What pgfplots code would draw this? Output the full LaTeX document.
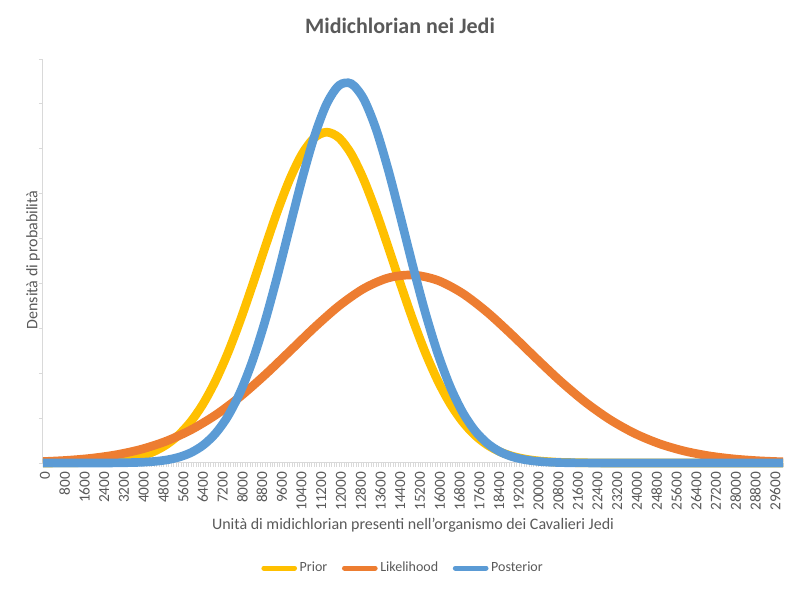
\documentclass[border=0pt]{standalone}
\usepackage{fontspec}
\setmainfont{Carlito}
\usepackage{pgfplots}
\pgfplotsset{compat=1.18}
\usepackage{pgfplotstable}
\definecolor{txt}{HTML}{595959}
\definecolor{axl}{HTML}{D9D9D9}
\definecolor{cprior}{HTML}{FFC000}
\definecolor{clik}{HTML}{ED7D31}
\definecolor{cpost}{HTML}{5B9BD5}

\pgfplotstableread{
x y
0 0.001
500 0.002
1000 0.004
1500 0.008
2000 0.015
2500 0.029
3000 0.052
3500 0.092
4000 0.156
4500 0.256
5000 0.407
5500 0.624
6000 0.926
6500 1.327
7000 1.838
7500 2.459
8000 3.181
8500 3.975
9000 4.801
9500 5.602
10000 6.316
10500 6.881
11000 7.245
11500 7.370
12000 7.245
12500 6.881
13000 6.316
13500 5.602
14000 4.801
14500 3.975
15000 3.181
15500 2.459
16000 1.838
16500 1.327
17000 0.926
17500 0.624
18000 0.407
18500 0.256
19000 0.156
19500 0.092
20000 0.052
20500 0.029
21000 0.015
21500 0.008
22000 0.004
22500 0.002
23000 0.001
24000 0
25000 0
26000 0
27000 0
28000 0
29000 0
30000 0
}\prior

\pgfplotstableread{
x y
0 0.0316
1000 0.0597
2000 0.1079
3000 0.1865
4000 0.3084
5000 0.4880
6000 0.7386
7000 1.0694
8000 1.4813
9000 1.9628
10000 2.4878
11000 3.0168
12000 3.4998
13000 3.8840
14000 4.1235
15000 4.1879
16000 4.0690
17000 3.7820
18000 3.3630
19000 2.8606
20000 2.3280
21000 1.8122
22000 1.3496
23000 0.9615
24000 0.6551
25000 0.4272
26000 0.2666
27000 0.1591
28000 0.0908
29000 0.0496
30000 0.0259
}\likelihood

\pgfplotstableread{
x y
0 0
1000 0
2000 0
2500 0
3000 0.003
3500 0.008
4000 0.016
4500 0.034
5000 0.067
5500 0.128
6000 0.231
6500 0.400
7000 0.662
7500 1.047
8000 1.583
8500 2.286
9000 3.156
9500 4.162
10000 5.246
10500 6.319
11000 7.274
11500 8.001
12000 8.411
12500 8.449
13000 8.111
13500 7.441
14000 6.523
14500 5.465
15000 4.375
15500 3.347
16000 2.448
16500 1.710
17000 1.142
17500 0.728
18000 0.444
18500 0.259
19000 0.144
19500 0.077
20000 0.039
20500 0.019
21000 0.009
21500 0.004
22000 0.002
23000 0
24000 0
25000 0
26000 0
27000 0
28000 0
29000 0
30000 0
}\posterior

\begin{document}
\begin{tikzpicture}
\path[use as bounding box] (0,0) rectangle (600pt,443.25pt);
\begin{axis}[
  at={(32.25pt,96pt)}, anchor=south west,
  scale only axis, width=555pt, height=303pt,
  xmin=0, xmax=30000, ymin=0, ymax=9,
  axis lines*=left,
  axis line style={draw=axl, line width=0.75pt},
  ytick={0,1,2,3,4,5,6,7,8,9}, yticklabels={},
  xtick distance=800,
  minor x tick num=7,
  tick style={draw=axl, line width=0.6pt},
  major tick length=3pt, minor tick length=3pt,
  tick align=outside,
  scaled x ticks=false,
  xticklabel style={rotate=90, anchor=east, yshift=-1.5pt, font=\fontsize{11.5}{12}\selectfont, text=txt, /pgf/number format/1000 sep={}, /pgf/number format/assume math mode=true},
  clip=false,
  legend style={at={(0.487,-0.26)}, anchor=center, draw=none, fill=none,
    legend columns=3, font=\fontsize{10.5}{12}\selectfont, text=txt,
    /tikz/every even column/.append style={column sep=9pt}},
  legend image code/.code={\draw[#1, line width=3.75pt, line cap=round] (0pt,0pt) -- (23pt,0pt);},
]
\addplot[cprior, line width=6.5pt, smooth] table[x=x,y=y] {\prior};
\addlegendentry{Prior}
\addplot[clik, line width=6.5pt, smooth] table[x=x,y=y] {\likelihood};
\addlegendentry{Likelihood}
\addplot[cpost, line width=6.5pt, smooth] table[x=x,y=y] {\posterior};
\addlegendentry{Posterior}
\end{axis}
\node[font=\fontsize{16.5}{18}\selectfont\bfseries, text=txt] at (300pt,423.75pt) {Midichlorian nei Jedi};
\node[font=\fontsize{12}{14}\selectfont, text=txt] at (309.75pt,49pt) {Unità di midichlorian presenti nell'organismo dei Cavalieri Jedi};
\node[rotate=90, font=\fontsize{12}{14}\selectfont, text=txt] at (24.75pt,248.25pt) {Densità di probabilità};
\end{tikzpicture}
\end{document}
